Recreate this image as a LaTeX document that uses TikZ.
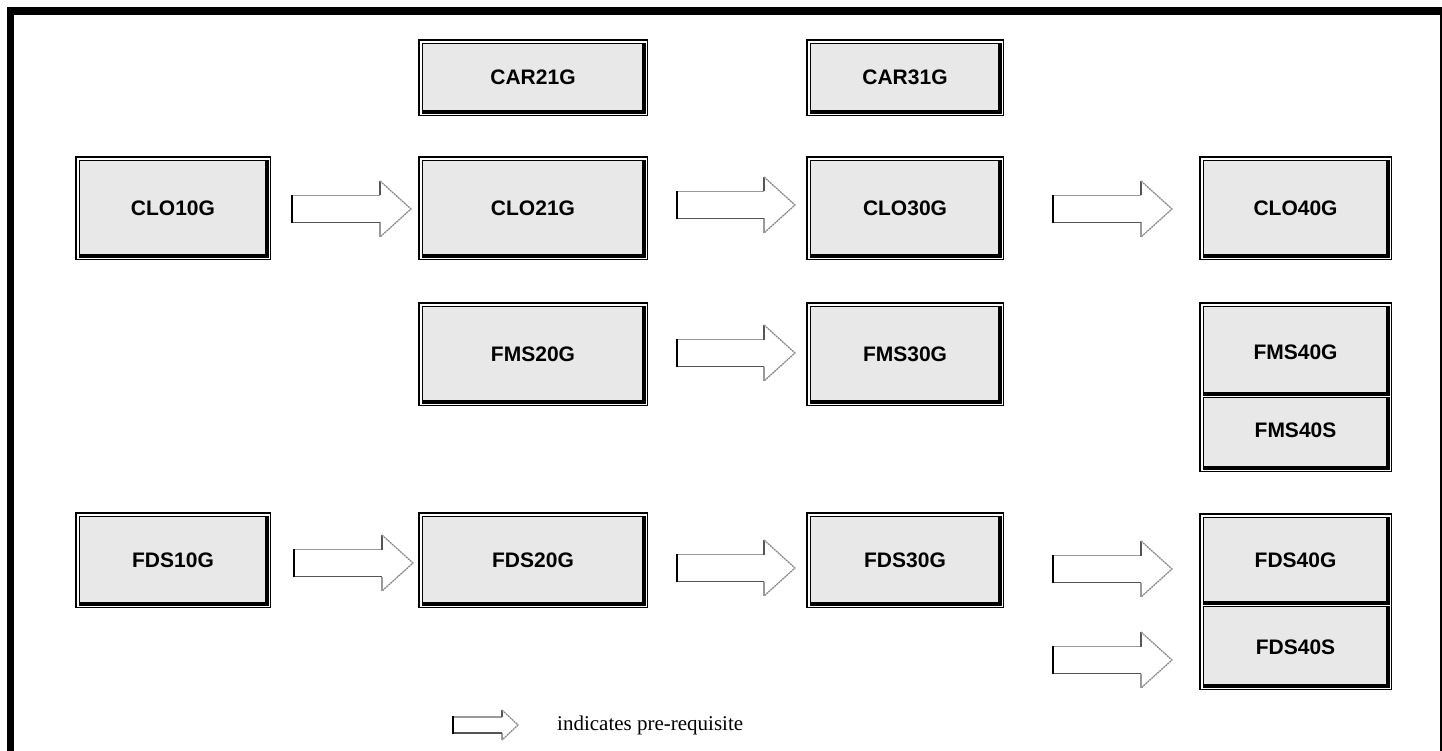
\documentclass[tikz,border=0pt]{standalone}
\usepackage{fontspec}
\setmainfont{Liberation Serif}
\newfontfamily\boxfont{Liberation Sans}
\usetikzlibrary{calc}

\definecolor{panel}{HTML}{E8E8E8}
\definecolor{arrowtop}{HTML}{9A9A9A}
\definecolor{arrowbot}{HTML}{555555}
\definecolor{arrowhead}{HTML}{8A8A8A}

% outer ridge: heavy top/left, light bottom/right
\newcommand\ridgeframe[4]{%
  \fill[black] (#1,#2) rectangle (#3,#4);
  \fill[white] (#1+2.4,#2+2.4) rectangle (#3-1.4,#4-1.4);
}
% inner panel: light top/left, heavy bottom/right, grey face
\newcommand\ridgeinner[4]{%
  \fill[black] (#1+3.6,#2+3.6) rectangle (#3-2.4,#4-2.4);
  \fill[panel] (#1+4.9,#2+4.9) rectangle (#3-5.7,#4-5.7);
}
% a single course box: name, x1, y1, x2, y2, code
\newcommand\course[6]{%
  \ridgeframe{#2}{#3}{#4}{#5}
  \ridgeinner{#2}{#3}{#4}{#5}
  \node[code] (#1) at ({(#2+#4)/2},{(#3+#5)/2}) {#6};
}
% two stacked panels sharing one frame: x1, y1, ydiv, x2, y2
\newcommand\panelpair[5]{%
  \ridgeframe{#1}{#2}{#4}{#5}
  \ridgeinner{#1}{#2}{#4}{#3}
  \ridgeinner{#1}{#3-4.9}{#4}{#5}
}
% hollow block arrow starting at a named coordinate:
% coordinate, length, head length, shaft half height, head half height
\newcommand\prereq[5]{%
  \begin{scope}[shift={(#1)}]
    \fill[white] (0,-#4) -- (#2-#3,-#4) -- (#2-#3,-#5) -- (#2,0)
      -- (#2-#3,#5) -- (#2-#3,#4) -- (0,#4) -- cycle;
    \draw[arrowtop, line width=1.6pt] (0,-#4) -- (#2-#3,-#4);
    \draw[arrowbot, line width=1.4pt] (#2-#3,-#4) -- (#2-#3,-#5);
    \draw[arrowhead, line width=1.3pt, dash pattern=on 2pt off 0.7pt]
      (#2-#3,-#5) -- (#2,0) -- (#2-#3,#5);
    \draw[arrowtop, line width=1.4pt] (#2-#3,#5) -- (#2-#3,#4);
    \draw[arrowbot, line width=1.8pt] (#2-#3,#4) -- (0,#4);
    \draw[black, line width=2.3pt] (0,#4+0.8) -- (0,-#4-0.8);
  \end{scope}
}

\tikzset{
  code/.style={inner sep=0pt, font=\boxfont\bfseries\fontsize{21}{25}\selectfont},
  legendtext/.style={inner sep=0pt, anchor=west, font=\fontsize{21}{25}\selectfont},
}

\begin{document}
\begin{tikzpicture}[x=1pt, y=-1pt]
  \useasboundingbox (0,0) rectangle (1442,751);
  \fill[white] (0,0) rectangle (1442,751);

  % page frame
  \fill[black] (7,7) rectangle (1442,15);
  \fill[black] (7,7) rectangle (14,751);
  \draw[black, line width=1.3pt] (1441,15) -- (1441,751);

  % courses
  \course{car21}{418}{39}{648}{116}{CAR21G}
  \course{car31}{806}{39}{1004}{116}{CAR31G}

  \course{clo10}{75}{156}{271}{260}{CLO10G}
  \course{clo21}{418}{156}{648}{260}{CLO21G}
  \course{clo30}{806}{156}{1004}{260}{CLO30G}
  \course{clo40}{1199}{156}{1392}{260}{CLO40G}

  \course{fms20}{418}{302}{648}{406}{FMS20G}
  \course{fms30}{806}{302}{1004}{406}{FMS30G}
  \panelpair{1199}{302}{398}{1392}{472}
  \node[code] (fms40g) at (1295.5,352) {FMS40G};
  \node[code] (fms40s) at (1295.5,430) {FMS40S};

  \course{fds10}{75}{512}{271}{608}{FDS10G}
  \course{fds20}{418}{512}{648}{608}{FDS20G}
  \course{fds30}{806}{512}{1004}{608}{FDS30G}
  \panelpair{1199}{513}{607}{1392}{690}
  \node[code] (fds40g) at (1295.5,560) {FDS40G};
  \node[code] (fds40s) at (1295.5,647) {FDS40S};

  % pre-requisite arrows
  \coordinate (pClo1) at (292,209);
  \coordinate (pClo2) at (677,205);
  \coordinate (pClo3) at (1053,209);
  \coordinate (pFms1) at (677,353);
  \coordinate (pFds1) at (294,563);
  \coordinate (pFds2) at (677,568);
  \coordinate (pFds3) at (1053,569);
  \coordinate (pFds4) at (1053,660);
  \prereq{pClo1}{119}{31}{13.5}{28}
  \prereq{pClo2}{118}{31}{13.5}{28}
  \prereq{pClo3}{119}{31}{13.5}{28}
  \prereq{pFms1}{118}{31}{13.5}{28}
  \prereq{pFds1}{119}{31}{13.5}{28}
  \prereq{pFds2}{118}{31}{13.5}{28}
  \prereq{pFds3}{119}{31}{13.5}{28}
  \prereq{pFds4}{119}{31}{13.5}{28}

  % legend
  \coordinate (pKey) at (453,725);
  \prereq{pKey}{65}{16}{8}{15}
  \node[legendtext] (keytext) at (557,725) {indicates pre-requisite};
\end{tikzpicture}
\end{document}
